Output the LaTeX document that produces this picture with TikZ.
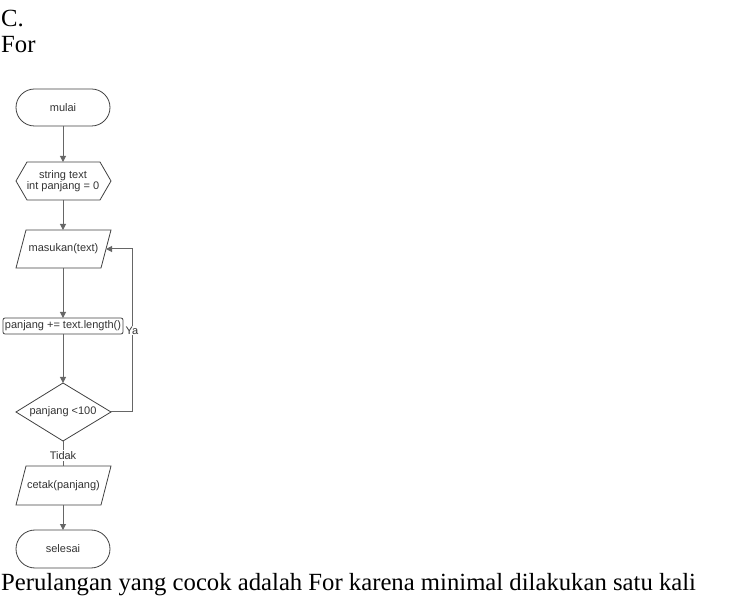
\documentclass[tikz,border=0pt]{standalone}
\usepackage{fontspec}
\setmainfont{Liberation Serif}
\newfontfamily\flowfont{Liberation Sans}
\usetikzlibrary{shapes.geometric,shapes.misc,arrows.meta}
\begin{document}
\begin{tikzpicture}[x=1pt,y=-1pt,
  shapeline/.style={draw=black!75,line width=0.8pt},
  lbl/.style={font=\flowfont\fontsize{11}{12}\selectfont,text=black!80,align=center,inner sep=0pt},
  conn/.style={draw=black!60,line width=1pt,-{Triangle[length=6pt,width=6pt]}},
  plain/.style={draw=black!60,line width=1pt},
  serif/.style={font=\fontsize{24.7}{26}\selectfont,anchor=base west,inner sep=0pt}]
\useasboundingbox (0,0) rectangle (734,609);
% header text
\node[serif] (hc) at (1,27) {C.};
\node[serif] (hf) at (1,53) {For};
\node[serif] (foot) at (1,590) {Perulangan yang cocok adalah For karena minimal dilakukan satu kali};
% shapes
\draw[shapeline,rounded corners=18.5pt] (16,89) rectangle (110,126);
\node[lbl] (mulai) at (63,107.5) {mulai};
\coordinate (mulaiB) at (63,126);
\draw[shapeline] (16,181) -- (27,162) -- (100,162) -- (111,181) -- (100,200) -- (27,200) -- cycle;
\node[lbl] (decl) at (63,181) {string text\\[-1.5pt]int panjang = 0};
\coordinate (declT) at (63,162);
\coordinate (declB) at (63,200);
\draw[shapeline] (26,230) -- (111,230) -- (101,268) -- (16,268) -- cycle;
\node[lbl] (input) at (63.5,249) {masukan(text)};
\coordinate (inT) at (63,230);
\coordinate (inB) at (63,268);
\coordinate (inR) at (106,249);
\draw[shapeline,rounded corners=2pt] (3,318) rectangle (123,334);
\node[lbl] (proc) at (63,326) {panjang += text.length()};
\coordinate (procT) at (63,318);
\coordinate (procB) at (63,334);
\draw[shapeline] (63,383) -- (111,412) -- (63,441) -- (16,412) -- cycle;
\node[lbl] (cond) at (63,412) {panjang <100};
\coordinate (condT) at (63,383);
\coordinate (condB) at (63,441);
\coordinate (condR) at (111,412);
\draw[shapeline] (26,466) -- (111,466) -- (101,505) -- (16,505) -- cycle;
\node[lbl] (out) at (63.5,486) {cetak(panjang)};
\coordinate (outT) at (63,466);
\coordinate (outB) at (63,505);
\draw[shapeline,rounded corners=19pt] (16,530) rectangle (110,568);
\node[lbl] (selesai) at (63,549) {selesai};
\coordinate (selT) at (63,530);
% connectors
\draw[conn] (mulaiB) -- (declT);
\draw[conn] (declB) -- (inT);
\draw[conn] (inB) -- (procT);
\draw[conn] (procB) -- (condT);
\draw[conn] (outB) -- (selT);
\coordinate (loopA) at (132,412);
\coordinate (loopB) at (132,249);
\draw[conn] (condR) -- (loopA) -- node[lbl,fill=white,pos=0.5,inner sep=1pt] (ya) {Ya} (loopB) -- (inR);
\draw[plain] (condB) -- node[lbl,fill=white,pos=0.58,inner sep=1.5pt] (tidak) {Tidak} (outT);
\end{tikzpicture}
\end{document}
